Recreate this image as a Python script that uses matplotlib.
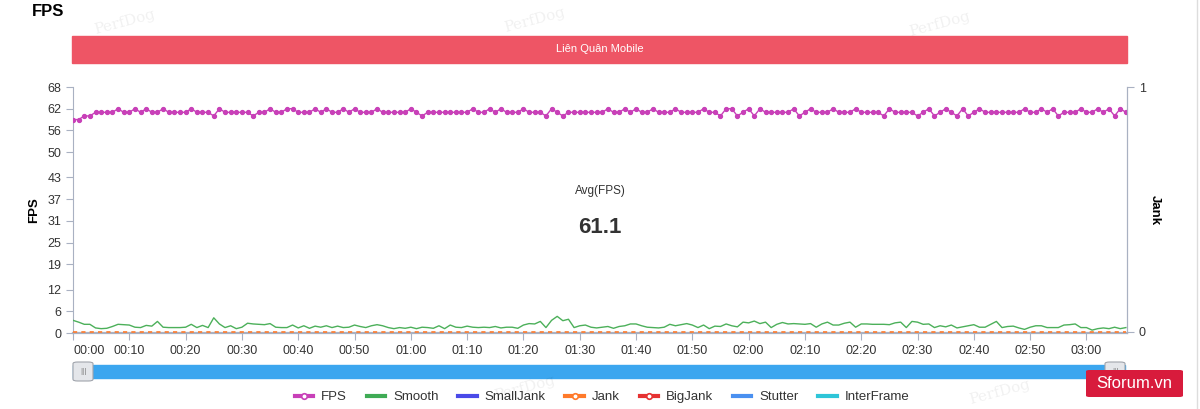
import matplotlib.pyplot as plt
from matplotlib.lines import Line2D
from matplotlib.patches import Rectangle, FancyBboxPatch

plt.rcParams['font.family'] = ['Liberation Sans', 'DejaVu Sans']

# data (one sample per second)
fps = [59, 59, 60, 60, 61, 61, 61, 61, 62, 61, 61, 62, 61, 62, 61, 61, 62, 61, 61, 61,
       61, 62, 61, 61, 61, 60, 62, 61, 61, 61, 61, 61, 60, 61, 61, 62, 61, 61, 62, 62,
       61, 61, 61, 62, 61, 62, 61, 61, 62, 61, 62, 61, 61, 61, 62, 61, 61, 61, 61, 61,
       62, 61, 60, 61, 61, 61, 61, 61, 61, 61,
       61, 62, 61, 61, 62, 61, 62, 61, 61, 61, 62, 61, 61, 61, 60, 62, 61, 60, 61, 61,
       61, 61, 61, 61, 61, 62, 61, 61, 62, 61, 62, 61, 61, 62, 61, 61, 61, 62, 61, 61,
       61, 61, 62, 61, 61, 60, 62, 62, 60, 61, 62, 60, 62, 61, 61, 61, 61, 61, 62, 60,
       61, 62, 61, 61, 61, 62, 61, 61, 61,
       62, 61, 61, 61, 61, 60, 62, 61, 61, 61, 61, 60, 61, 62, 60, 61, 62, 61, 60, 62,
       60, 61, 62, 61, 61, 61, 61, 61, 61, 61, 62, 61, 61, 62, 61, 62, 60, 61, 61, 61,
       62, 61, 61, 62, 61, 62, 60, 62, 61]
smooth = [3.5, 3.0, 2.4, 2.4, 1.4, 1.2, 1.3, 1.8, 2.4, 2.3, 2.2, 1.6, 1.5, 2.1, 1.9, 3.2, 1.6, 1.5, 1.5, 1.5,
          1.6, 2.4, 1.5, 2.1, 1.5, 4.2, 2.5, 1.5, 2.0, 1.2, 1.6, 2.7, 2.5, 2.4, 2.3, 2.6, 1.6, 1.5, 1.5, 2.2,
          1.4, 2.0, 1.3, 1.9, 1.6, 2.0, 1.5, 1.9, 1.5, 1.6, 2.2, 1.8, 1.5, 2.0, 2.3, 2.0, 1.5, 1.2, 1.5, 1.3,
          1.6, 1.2, 1.6, 1.5, 1.3, 2.0, 1.2, 2.2, 1.6, 1.5, 1.9, 1.6, 1.5, 1.6, 1.5, 1.8, 1.4, 1.6, 1.6, 1.3,
          2.2, 2.6, 2.5, 3.2, 1.5, 3.5, 4.6, 3.4, 3.8, 1.5, 2.0, 2.2, 1.6, 1.4, 1.6, 1.8, 1.3, 1.8, 2.0, 2.5,
          2.5, 2.0, 1.6, 1.5, 1.4, 1.6, 2.4, 2.0, 2.3, 2.6, 2.2, 1.5, 2.2, 1.2, 1.9, 1.8, 2.5, 2.0, 1.7, 3.0,
          2.8, 3.3, 2.6, 3.0, 1.5, 2.4, 2.9, 2.5, 2.6, 2.5, 2.4, 2.6, 1.6, 2.5, 3.0, 2.2, 2.2, 2.7, 3.0, 1.6,
          2.5, 2.5, 2.4, 2.4, 2.4, 2.3, 2.8, 3.0, 1.5, 3.2, 3.0, 2.4, 2.5, 1.5, 2.0, 1.7, 2.2, 1.4, 1.7, 2.0,
          2.3, 1.6, 1.6, 2.4, 3.2, 1.5, 1.8, 1.9, 1.4, 1.0, 1.6, 2.0, 2.0, 1.5, 1.5, 1.5, 2.2, 2.3, 2.5, 1.5,
          1.5, 0.8, 1.2, 1.4, 1.2, 1.6, 1.2, 1.5]
t = list(range(len(fps)))
jank = [0] * len(fps)
fps_ticks = [0, 6, 12, 19, 25, 31, 37, 43, 50, 56, 62, 68]
time_ticks = list(range(0, 181, 10))
time_labels = [f"{s // 60:02d}:{s % 60:02d}" for s in time_ticks]
avg_fps = 61.1

axis_col = '#a9b1c2'
fig = plt.figure(figsize=(12, 4.09), dpi=100)
W, H = 1200, 409

def fx(px):
    return px / W

def fy(py):
    return 1 - py / H

ax = fig.add_axes([fx(73), fy(333), fx(1127) - fx(73), fy(87) - fy(333)])
ax.plot(t, smooth, color='#4cb05a', lw=1.0, zorder=3)
ax.plot(t, fps, color='#c840b8', lw=1.0, marker='o', ms=2.8, zorder=4)
ax.set_xlim(0, 187.2)
ax.set_ylim(0, 68)
ax.set_yticks(fps_ticks)
ax.set_xticks(time_ticks)
ax.set_xticklabels(time_labels)
ax.get_xticklabels()[0].set_horizontalalignment('left')
ax.tick_params(colors=axis_col, labelcolor='#333333', labelsize=9, length=5)
ax.tick_params(axis='x', pad=4)
ax.spines['top'].set_visible(False)
for s in ['left', 'bottom', 'right']:
    ax.spines[s].set_color(axis_col)
ax.spines['bottom'].set_linewidth(1.6)
ax.set_ylabel('FPS', fontsize=9.5, fontweight='bold', labelpad=5)

ax2 = ax.twinx()
ax2.plot(t, jank, color='#ff7a2a', lw=1.2, ls=(0, (2.5, 2.5)), zorder=5)
ax2.set_ylim(-0.005, 1)
ax2.set_yticks([0, 1])
ax2.tick_params(colors=axis_col, labelcolor='#333333', labelsize=9, length=5)
for s in ['top', 'left', 'bottom']:
    ax2.spines[s].set_visible(False)
ax2.spines['right'].set_color(axis_col)
ax2.set_ylabel('Jank', fontsize=9.5, fontweight='bold', rotation=-90, labelpad=11)

ax.text(0.5, 0.578, 'Avg(FPS)', transform=ax.transAxes, ha='center', va='center',
        fontsize=8.5, color='#333333')
ax.text(0.5, 0.43, f'{avg_fps}', transform=ax.transAxes, ha='center', va='center',
        fontsize=16, fontweight='bold', color='#333333')

# title and app bar
fig.text(fx(32), fy(12), 'FPS', fontsize=12, fontweight='bold', va='center')
fig.patches.append(Rectangle((fx(72), fy(63)), fx(1127) - fx(72), fy(36) - fy(63),
                             transform=fig.transFigure, color='#ee5565', zorder=1))
fig.text(fx(600), fy(49.5), 'Liên Quân Mobile', fontsize=8, color='white',
         ha='center', va='center')

# zoom slider
fig.patches.append(Rectangle((fx(73), fy(378)), fx(1125) - fx(73), fy(365) - fy(378),
                             transform=fig.transFigure, color='#3ba6ef', zorder=1))
for hx in [73, 1105]:
    fig.patches.append(FancyBboxPatch((fx(hx), fy(381)), fx(20), fy(362) - fy(381),
                                      boxstyle='round,pad=0,rounding_size=0.004',
                                      transform=fig.transFigure, fc='#e4e6ea',
                                      ec='#a0a4ac', lw=0.8, zorder=2))
    fig.text(fx(hx + 10), fy(371.5), '|||', fontsize=6, color='#777777',
             ha='center', va='center', zorder=3)

# legend
handles = [
    Line2D([], [], color='#c840b8', lw=3, marker='o', ms=4, mfc='white', mew=1.2),
    Line2D([], [], color='#3fab55', lw=3),
    Line2D([], [], color='#4a4ae8', lw=3),
    Line2D([], [], color='#ff7a2a', lw=3, marker='o', ms=4, mfc='white', mew=1.2),
    Line2D([], [], color='#e63232', lw=3, marker='o', ms=4, mfc='white', mew=1.2),
    Line2D([], [], color='#4a90f0', lw=3),
    Line2D([], [], color='#2ec5d8', lw=3),
]
labels = ['FPS', 'Smooth', 'SmallJank', 'Jank', 'BigJank', 'Stutter', 'InterFrame']
fig.legend(handles, labels, loc='center', bbox_to_anchor=(fx(602), fy(397)), ncol=7,
           frameon=False, fontsize=9.5, handlelength=1.4, columnspacing=1.5,
           handletextpad=0.6, labelcolor='#333333')

# watermarks
for wx, wy in [(125, 22), (535, 20), (940, 24), (525, 388), (1000, 392)]:
    fig.text(fx(wx), fy(wy), 'PerfDog', fontsize=11, family='DejaVu Serif',
             color='#000000', alpha=0.06, rotation=15, ha='center', va='center')

# right border and site badge
fig.add_artist(Line2D([fx(1197), fx(1197)], [0, 1], color='#dddddd', lw=1))
fig.patches.append(FancyBboxPatch((fx(1086), fy(397)), fx(97), fy(370) - fy(397),
                                  boxstyle='round,pad=0,rounding_size=0.003',
                                  transform=fig.transFigure, fc='#d81b3c', ec='none',
                                  zorder=5))
fig.text(fx(1134), fy(383.5), 'Sforum.vn', fontsize=12, color='white',
         ha='center', va='center', zorder=6)

plt.savefig('out.png', dpi=100)
